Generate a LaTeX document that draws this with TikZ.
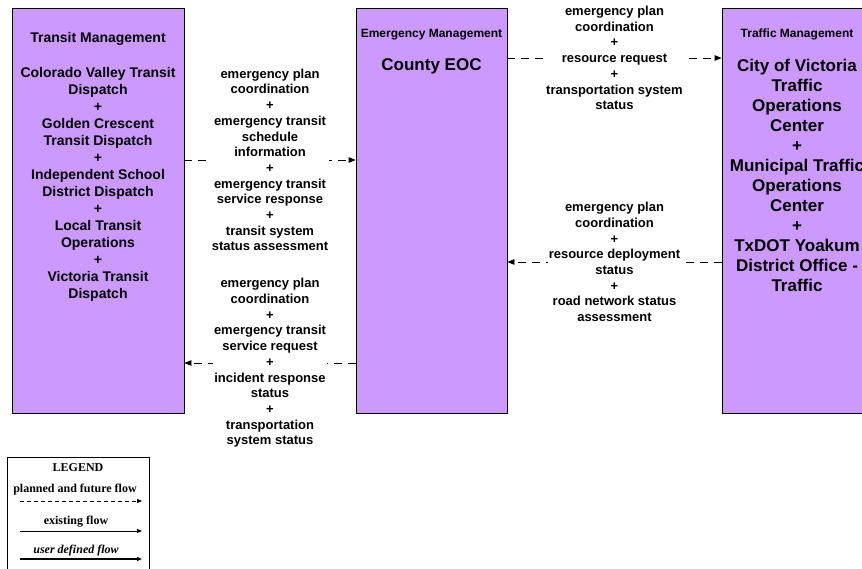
\documentclass[tikz,border=0pt]{standalone}
\usepackage{fontspec}
\setmainfont{Liberation Sans}
\newfontfamily\legendfont{Liberation Serif}
\usetikzlibrary{arrows.meta}
\definecolor{boxpurple}{RGB}{204,153,255}
\begin{document}
\begin{tikzpicture}[x=1pt,y=-1pt,
  sysbox/.style={draw=black, line width=0.8pt, fill=boxpurple, minimum width=#1, minimum height=405pt, inner sep=0pt},
  smalltitle/.style={font=\bfseries\fontsize{12}{14}\selectfont, align=center, inner sep=0pt},
  transitfont/.style={font=\bfseries\fontsize{14}{17}\selectfont, align=center, inner sep=0pt},
  bigfont/.style={font=\bfseries\fontsize{17}{20}\selectfont, align=center, inner sep=0pt},
  lbl/.style={font=\bfseries\fontsize{13}{15.7}\selectfont, align=center, fill=white, inner sep=1pt},
  flow/.style={draw=black, line width=0.8pt, dash pattern=on 8pt off 6pt, -{Triangle[length=7pt,width=5.5pt]}},
  lgtext/.style={font=\legendfont\bfseries\fontsize{12}{14}\selectfont, inner sep=0pt},
  lgarrow/.style={draw=black, line width=0.7pt, -{Triangle[length=5pt,width=4pt]}}
]
\useasboundingbox (0,0) rectangle (862,569);

% system boxes
\node[sysbox=172pt] (transit) at (98,210.5) {};
\node[sysbox=151pt] (eoc) at (431.5,210.5) {};
\node[sysbox=150pt] (traffic) at (797,210.5) {};

% box texts
\node[transitfont] (tmtitle) at (98,38.5) {Transit Management};
\node[transitfont] (tmlist) at (98,184) {Colorado Valley Transit\\Dispatch\\+\\Golden Crescent\\Transit Dispatch\\+\\Independent School\\District Dispatch\\+\\Local Transit\\Operations\\+\\Victoria Transit\\Dispatch};

\node[smalltitle] (emtitle) at (431.5,34.5) {Emergency Management};
\node[bigfont] (emlist) at (431.5,66.5) {County EOC};

\node[smalltitle] (trtitle) at (797,34.5) {Traffic Management};
\node[bigfont] (trlist) at (797,175.5) {City of Victoria\\Traffic\\Operations\\Center\\+\\Municipal Traffic\\Operations\\Center\\+\\TxDOT Yoakum\\District Office -\\Traffic};

% flows
\draw[flow] ([yshift=50.5pt]transit.east) -- node[lbl] (f1) {emergency plan\\coordination\\+\\emergency transit\\schedule\\information\\+\\emergency transit\\service response\\+\\transit system\\status assessment} ([yshift=50.5pt]eoc.west);

\draw[flow] ([yshift=-152.5pt]eoc.west) -- node[lbl] (f2) {emergency plan\\coordination\\+\\emergency transit\\service request\\+\\incident response\\status\\+\\transportation\\system status} ([yshift=-152.5pt]transit.east);

\draw[flow] ([yshift=152.5pt]eoc.east) -- node[lbl] (f3) {emergency plan\\coordination\\+\\resource request\\+\\transportation system\\status} ([yshift=152.5pt]traffic.west);

\draw[flow] ([yshift=-51.5pt]traffic.west) -- node[lbl] (f4) {emergency plan\\coordination\\+\\resource deployment\\status\\+\\road network status\\assessment} ([yshift=-51.5pt]eoc.east);

% legend
\node[draw=black, line width=0.8pt, fill=white, minimum width=142pt, minimum height=125pt, anchor=north west, inner sep=0pt] (legend) at (7,457) {};
\node[lgtext] (lgtitle) at (78,467.5) {LEGEND};
\node[lgtext] (lg1) at (75,489.5) {planned and future flow};
\coordinate (l1a) at (20,501);
\coordinate (l1b) at (142,501);
\draw[lgarrow, dash pattern=on 4pt off 3pt] (l1a) -- (l1b);
\node[lgtext] (lg2) at (76,521.5) {existing flow};
\coordinate (l2a) at (20,531);
\coordinate (l2b) at (142,531);
\draw[lgarrow] (l2a) -- (l2b);
\node[lgtext, font=\legendfont\bfseries\itshape\fontsize{12}{14}\selectfont] (lg3) at (76,550.5) {user defined flow};
\coordinate (l3a) at (20,559);
\coordinate (l3b) at (142,559);
\draw[lgarrow, line width=1.2pt] (l3a) -- (l3b);
\end{tikzpicture}
\end{document}
